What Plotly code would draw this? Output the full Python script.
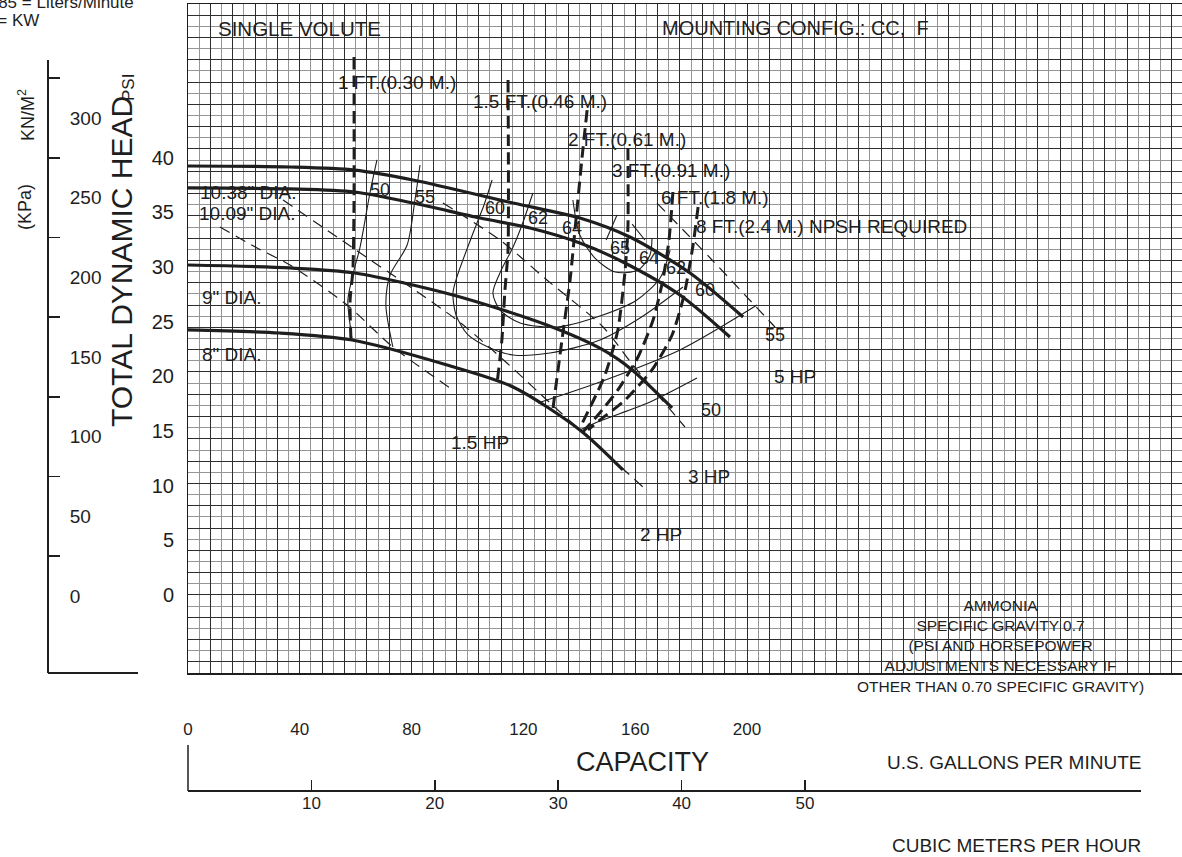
import plotly.graph_objects as go

# ---------------- data (capacity in US GPM, head in PSI) ----------------
dia_1038_gpm = [0, 36.5, 59.7, 80.5, 116.3, 140.2, 158.1, 179.6, 198.6]
dia_1038_psi = [39.25, 39.16, 38.88, 37.97, 35.86, 34.49, 32.75, 29.46, 25.43]
dia_1009_gpm = [0, 36.5, 59.7, 80.5, 104.5, 122.4, 140.2, 155.6, 176.0, 193.9]
dia_1009_psi = [37.24, 37.15, 36.87, 35.86, 34.49, 33.58, 32.21, 30.47, 27.45, 23.6]
dia_9_gpm = [0, 36.5, 59.7, 94.8, 128.4, 148.5, 158.9, 173.2]
dia_9_psi = [30.19, 29.92, 29.46, 27.45, 24.7, 22.42, 20.59, 17.11]
dia_8_gpm = [0, 32.9, 58.7, 92.7, 116.3, 140.2, 155.6]
dia_8_psi = [24.25, 23.97, 23.33, 21.04, 19.03, 15.1, 11.44]

npsh_1_gpm = [59.4, 59.4, 59.0, 58.0, 58.3]
npsh_1_psi = [49.22, 36.14, 29.73, 26.99, 23.33]
npsh_15_gpm = [114.5, 114.5, 113.4, 112.3, 110.6]
npsh_15_psi = [47.12, 31.56, 27.9, 23.33, 19.4]
npsh_2_gpm = [142.8, 141.0, 138.8, 136.7, 133.8, 130.6]
npsh_2_psi = [44.37, 40.07, 34.31, 28.82, 23.33, 17.11]
npsh_3_gpm = [157.4, 157.4, 156.4, 153.8, 149.2, 140.2]
npsh_3_psi = [40.9, 33.67, 29.73, 24.25, 20.13, 15.28]
npsh_6_gpm = [173.5, 172.1, 169.9, 166.4, 161.0, 153.8, 146.7, 141.3]
npsh_6_psi = [36.87, 32.48, 28.82, 25.16, 21.77, 18.76, 16.47, 14.91]
npsh_8_gpm = [182.5, 180.7, 177.5, 173.2, 166.0, 156.4, 147.4, 143.1]
npsh_8_psi = [35.5, 32.02, 27.45, 23.79, 20.59, 17.84, 16.01, 15.1]

hp_15_gpm = [11.4, 24.7, 36.5, 56.9, 73.3, 94.8]
hp_15_psi = [33.67, 31.75, 30.19, 26.53, 22.69, 18.76]
hp_2_gpm = [34.0, 59.0, 96.2, 114.1, 128.4, 162.8]
hp_2_psi = [36.14, 31.75, 25.16, 21.23, 17.84, 9.88]
hp_3_gpm = [91.2, 111.6, 128.4, 148.5, 159.2, 177.8]
hp_3_psi = [35.86, 32.48, 28.82, 24.52, 21.04, 15.37]
hp_5_gpm = [167.8, 187.5, 210.0]
hp_5_psi = [35.86, 30.65, 24.52]

eff_50_gpm = [67.6, 65.1, 61.5, 59.4, 57.2, 58.0, 58.7, None, 140.2, 147.4, 165.3, 182.1]
eff_50_psi = [39.8, 36.78, 31.75, 29.73, 26.99, 24.7, 23.33, None, 15.1, 15.92, 17.66, 19.85]
eff_55_gpm = [83.0, 81.2, 78.4, 72.3, 70.8, 73.3, None, 125.2, 147.4, 176.0, 203.6]
eff_55_psi = [39.34, 36.14, 32.02, 29.28, 26.53, 22.69, None, 17.57, 19.49, 22.42, 26.53]
eff_60_gpm = [108.8, 105.9, 102.0, 96.2, 94.8, 95.9, 100.2, 108.1, 116.3, 129.5, 147.4, 161.7, 177.1]
eff_60_psi = [37.97, 35.68, 33.12, 29.09, 27.63, 25.62, 23.79, 22.6, 21.96, 22.14, 23.33, 25.34, 28.18]
eff_62_gpm = [123.4, 119.5, 116.3, 111.6, 109.1, 111.6, 118.8, 132.0, 146.3, 160.6, 168.9, 172.5]
eff_62_psi = [36.78, 33.85, 31.84, 29.46, 27.63, 26.08, 24.89, 24.52, 25.43, 26.99, 29.0, 31.56]
eff_64_gpm = [137.7, 140.2, 145.6, 152.8, 161.0, 165.3, 166.0]
eff_64_psi = [36.14, 32.94, 30.83, 29.55, 29.73, 31.11, 32.66]
eff_65_gpm = [149.6, 153.5, None, 158.9, 163.5]
eff_65_psi = [32.48, 34.77, None, 33.94, 32.48]

dia_labels = ['10.38" DIA.', '10.09" DIA.', '9" DIA.', '8" DIA.']
dia_label_gpm = [3.6, 3.2, 4.3, 4.3]
dia_label_psi = [36.87, 34.95, 27.26, 21.96]

eff_labels = ["50", "55", "60", "62", "64", "65", "64", "62", "60", "55", "50"]
eff_label_gpm = [68.7, 84.8, 109.8, 125.2, 137.4, 154.6, 164.9, 174.6, 185.0, 210.0, 187.1]
eff_label_psi = [37.05, 36.41, 35.41, 34.49, 33.58, 31.75, 30.83, 29.92, 27.9, 23.79, 16.93]

npsh_labels = ["1 FT.(0.30 M.)", "1.5 FT.(0.46 M.)", "2 FT.(0.61 M.)", "3 FT.(0.91 M.)",
               "6 FT.(1.8 M.)", "8 FT.(2.4 M.) NPSH REQUIRED"]
npsh_label_gpm = [74.8, 125.9, 157.1, 172.8, 188.6, 230.1]
npsh_label_psi = [46.93, 45.11, 41.63, 38.88, 36.41, 33.67]

hp_labels = ["1.5 HP", "2 HP", "3 HP", "5 HP"]
hp_label_gpm = [104.5, 169.2, 186.4, 217.2]
hp_label_psi = [13.91, 5.49, 10.8, 19.95]

psi_ticks = [0, 5, 10, 15, 20, 25, 30, 35, 40]
kpa_ticks = [0, 50, 100, 150, 200, 250, 300]
kpa_marks = [25, 75, 125, 175, 225, 275, 325]
gpm_ticks = [0, 40, 80, 120, 160, 200]
m3h_ticks = [10, 20, 30, 40, 50]

# ---------------- layout helpers (page pixel -> paper) ----------------
W, H = 1182, 857
def px(x):
    return x / W
def py(y):
    return (H - y) / H

FONT = "Liberation Sans, Arial, sans-serif"
INK = "#1e1e1e"
TOP = 4                # page row of the grid's top border

fig = go.Figure()

# invisible helpers so every axis is instantiated
for xa, ya in [("x", "y"), ("x3", "y"), ("x4", "y"), ("x", "y3")]:
    fig.add_trace(go.Scatter(x=[None], y=[None], xaxis=xa, yaxis=ya, mode="lines",
                             showlegend=False, hoverinfo="skip"))

def curve(xs, ys, width, dash=None, smooth=0.8):
    fig.add_trace(go.Scatter(
        x=xs, y=ys, mode="lines", xaxis="x", yaxis="y2",
        line=dict(color=INK, width=width, dash=dash, shape="spline", smoothing=smooth),
        showlegend=False, hoverinfo="skip", connectgaps=False))

# efficiency contours (thin)
for xs, ys in [(eff_50_gpm, eff_50_psi), (eff_55_gpm, eff_55_psi), (eff_60_gpm, eff_60_psi),
               (eff_62_gpm, eff_62_psi), (eff_64_gpm, eff_64_psi), (eff_65_gpm, eff_65_psi)]:
    curve(xs, ys, 1.1)

# horsepower lines (thin dashed)
for xs, ys in [(hp_15_gpm, hp_15_psi), (hp_2_gpm, hp_2_psi), (hp_3_gpm, hp_3_psi), (hp_5_gpm, hp_5_psi)]:
    curve(xs, ys, 1.2, dash="11px,7px")

# NPSH required lines (bold dashed)
for xs, ys in [(npsh_1_gpm, npsh_1_psi), (npsh_15_gpm, npsh_15_psi), (npsh_2_gpm, npsh_2_psi),
               (npsh_3_gpm, npsh_3_psi), (npsh_6_gpm, npsh_6_psi), (npsh_8_gpm, npsh_8_psi)]:
    curve(xs, ys, 3, dash="12px,6px", smooth=0.6)

# impeller curves (bold)
for xs, ys in [(dia_1038_gpm, dia_1038_psi), (dia_1009_gpm, dia_1009_psi),
               (dia_9_gpm, dia_9_psi), (dia_8_gpm, dia_8_psi)]:
    curve(xs, ys, 3.2)

ann = []
def txt(x, y, t, size, xref="x", yref="y2", xanchor="center", angle=0, yanchor="middle"):
    ann.append(dict(x=x, y=y, xref=xref, yref=yref, text=t, showarrow=False,
                    xanchor=xanchor, yanchor=yanchor, textangle=angle,
                    font=dict(family=FONT, size=size, color=INK)))

for t, x, y in zip(dia_labels, dia_label_gpm, dia_label_psi):
    txt(x, y, t, 19, xanchor="left")
for t, x, y in zip(eff_labels, eff_label_gpm, eff_label_psi):
    txt(x, y, t, 18)
for t, x, y in zip(npsh_labels, npsh_label_gpm, npsh_label_psi):
    txt(x, y, t, 19)
for t, x, y in zip(hp_labels, hp_label_gpm, hp_label_psi):
    txt(x, y, t, 19)

txt(px(299), py(28), "SINGLE VOLUTE", 20.5, "paper", "paper")
txt(px(795), py(28), "MOUNTING CONFIG.: CC,&nbsp; F", 20, "paper", "paper")
txt(px(1000), py(646), "AMMONIA<br>SPECIFIC GRAVITY 0.7<br>(PSI AND HORSEPOWER<br>"
    "ADJUSTMENTS NECESSARY IF<br>OTHER THAN 0.70 SPECIFIC GRAVITY)", 15.5, "paper", "paper")
txt(px(121), py(262), "TOTAL DYNAMIC HEAD", 30, "paper", "paper", angle=-90)
txt(px(129), py(88), "PSI", 17, "paper", "paper", angle=-90)
txt(px(27), py(115), "KN/M<sup>2</sup>", 18, "paper", "paper", angle=-90)
txt(px(25), py(207), "(KPa)", 18, "paper", "paper", angle=-90)
txt(px(642), py(762), "CAPACITY", 27, "paper", "paper")
txt(px(1143), py(762), "U.S. GALLONS PER MINUTE", 19, "paper", "paper", xanchor="right")
txt(px(1143), py(845), "CUBIC METERS PER HOUR", 19, "paper", "paper", xanchor="right")
txt(px(136), py(2), "GPM X 3.785 = Liters/Minute", 17, "paper", "paper", xanchor="right")
txt(px(41), py(20), "HP X 0.746 = KW", 17, "paper", "paper", xanchor="right")

shapes = [
    dict(type="line", xref="paper", yref="paper", x0=px(48), x1=px(48), y0=py(60), y1=py(673),
         line=dict(color=INK, width=2)),
    dict(type="line", xref="paper", yref="paper", x0=px(48), x1=px(138), y0=py(673), y1=py(673),
         line=dict(color=INK, width=2)),
    dict(type="line", xref="paper", yref="paper", x0=px(188), x1=px(188), y0=py(745), y1=py(791),
         line=dict(color=INK, width=1.5)),
    dict(type="line", xref="paper", yref="paper", x0=px(188), x1=px(1141), y0=py(791), y1=py(791),
         line=dict(color=INK, width=2)),
]

GPM_MAX = (1182 - 188) / 2.795
ROW = 11.15            # grid row height in pixels (1 psi per row)
tickfont = dict(family=FONT, size=20, color=INK)

fig.update_layout(
    width=W, height=H, margin=dict(l=0, r=0, t=0, b=0), template="none",
    paper_bgcolor="white", plot_bgcolor="white", showlegend=False,
    font=dict(family=FONT, color=INK),
    xaxis=dict(domain=[px(188), 1], range=[0, GPM_MAX], anchor="y",
               showgrid=True, dtick=8, tick0=0, gridcolor="#2e2e2e", gridwidth=1,
               minor=dict(dtick=4, tick0=0, showgrid=True, gridcolor="#959595", gridwidth=1),
               showticklabels=False, ticks="", zeroline=False,
               showline=True, linecolor=INK, linewidth=1.5, mirror=True, automargin=False),
    yaxis=dict(domain=[py(673), py(TOP)], range=[-7, -7 + (673 - TOP) / ROW], anchor="x",
               showgrid=True, dtick=2, tick0=0, gridcolor="#2e2e2e", gridwidth=1,
               minor=dict(dtick=1, tick0=0, showgrid=True, gridcolor="#959595", gridwidth=1),
               showticklabels=False, ticks="", zeroline=False,
               showline=True, linecolor=INK, linewidth=1.5, mirror=True, automargin=False),
    yaxis2=dict(overlaying="y", anchor="x", side="left",
                range=[(595 - 673) / 10.93, (595 - TOP) / 10.93],
                tickmode="array", tickvals=psi_ticks, ticktext=[str(v) for v in psi_ticks],
                showgrid=False, zeroline=False, showline=False,
                ticks="outside", ticklen=9, tickcolor="rgba(0,0,0,0)",
                tickfont=tickfont, automargin=False),
    yaxis3=dict(overlaying="y", anchor="free", position=px(48), side="right",
                range=[-(673 - 596) / 1.5933, (596 - TOP) / 1.5933],
                tickmode="array", tickvals=kpa_ticks, ticktext=[str(v) for v in kpa_ticks],
                showgrid=False, zeroline=False, showline=False,
                ticks="outside", ticklen=17, tickcolor="rgba(0,0,0,0)",
                minor=dict(tickvals=kpa_marks, ticks="outside", ticklen=11, tickwidth=1.5,
                           tickcolor=INK, showgrid=False),
                tickfont=dict(family=FONT, size=19, color=INK), automargin=False),
    xaxis3=dict(overlaying="x", anchor="free", position=py(791), side="bottom",
                range=[0, (1182 - 188) / 12.34],
                tickmode="array", tickvals=m3h_ticks, ticktext=[str(v) for v in m3h_ticks],
                showgrid=False, zeroline=False, showline=False,
                ticks="inside", ticklen=11, tickwidth=1.5, tickcolor=INK,
                tickfont=dict(family=FONT, size=17, color=INK), automargin=False),
    xaxis4=dict(overlaying="x", anchor="free", position=py(717), side="bottom",
                range=[0, GPM_MAX],
                tickmode="array", tickvals=gpm_ticks, ticktext=[str(v) for v in gpm_ticks],
                showgrid=False, zeroline=False, showline=False, ticks="",
                tickfont=dict(family=FONT, size=17, color=INK), automargin=False),
    annotations=ann, shapes=shapes,
)

fig.write_html("out.html",
               config={"displayModeBar": False, "staticPlot": True},
               post_script="document.body.style.margin='0px';document.body.style.overflow='hidden';")
